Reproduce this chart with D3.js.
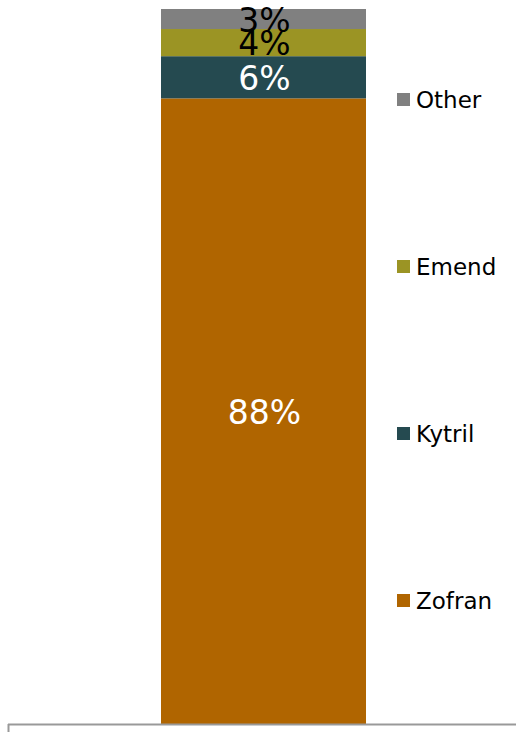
<!DOCTYPE html>
<html><head><meta charset="utf-8">
<script src="https://cdn.jsdelivr.net/npm/d3@7"></script>
<style>body{margin:0;background:#fff}svg{display:block}</style>
</head><body>
<script>
const series = ["Zofran","Kytril","Emend","Other"];
const values = [87.5, 5.9, 3.8, 2.8];
const labels = ["88%","6%","4%","3%"];
const colors = ["#B06500","#254A50","#9B9424","#808080"];
const labelColors = ["#fff","#fff","#000","#000"];
const category = ["Share"];

const W=516,H=732;
const svg=d3.select("body").append("svg").attr("width",W).attr("height",H);
const y=d3.scaleLinear().domain([0,100]).range([724,9]);
const barX=161, barW=205;

let cum=0;
const stack=values.map((v,i)=>{const s={i,y0:cum,y1:cum+v};cum+=v;return s;});
svg.selectAll("rect.bar").data(stack).enter().append("rect")
  .attr("x",barX).attr("width",barW)
  .attr("y",d=>y(d.y1)).attr("height",d=>y(d.y0)-y(d.y1))
  .attr("fill",d=>colors[d.i]);
svg.selectAll("text.lab").data(stack).enter().append("text")
  .attr("x",barX+barW/2+1).attr("y",d=>(y(d.y0)+y(d.y1))/2+1)
  .attr("text-anchor","middle").attr("dominant-baseline","central")
  .attr("font-family","Verdana, DejaVu Sans, sans-serif").attr("font-size",33)
  .attr("fill",d=>labelColors[d.i]).text(d=>labels[d.i]);

// axis
svg.append("line").attr("x1",8).attr("x2",516).attr("y1",724.5).attr("y2",724.5)
  .attr("stroke","#999").attr("stroke-width",2);
svg.append("line").attr("x1",8.5).attr("x2",8.5).attr("y1",724).attr("y2",732)
  .attr("stroke","#999").attr("stroke-width",2);

// legend
const legY=[601,434,267,100];
const lg=svg.selectAll("g.leg").data(series).enter().append("g")
  .attr("transform",(d,i)=>`translate(397,${legY[i]})`);
lg.append("rect").attr("x",0).attr("y",-7).attr("width",13).attr("height",13).attr("fill",(d,i)=>colors[i]);
lg.append("text").attr("x",19).attr("y",0).attr("dominant-baseline","central")
  .attr("font-family","Verdana, DejaVu Sans, sans-serif").attr("font-size",23).attr("fill","#000").text(d=>d);
</script>
</body></html>
